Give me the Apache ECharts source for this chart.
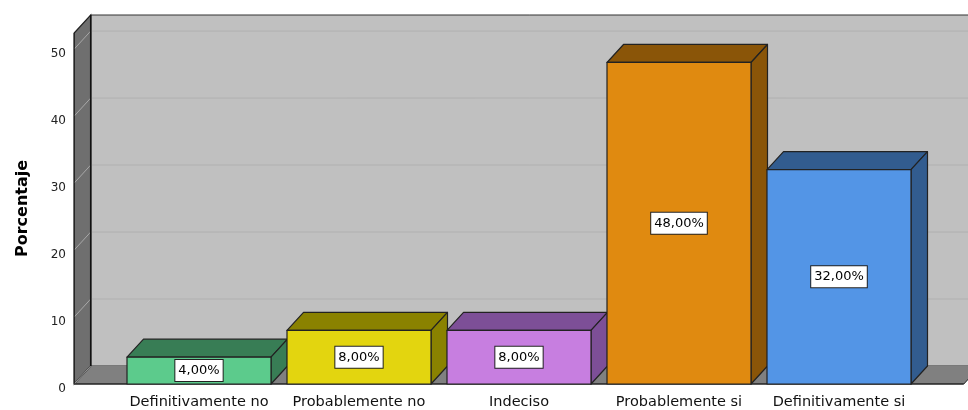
<!DOCTYPE html>
<html><head><meta charset="utf-8">
<script src="https://cdn.jsdelivr.net/npm/echarts@6/dist/echarts.min.js"></script>
<style>html,body{margin:0;padding:0;background:#fff}#c{width:968px;height:410px}</style>
</head><body><div id="c"></div>
<script>
var categories = ['Definitivamente no', 'Probablemente no', 'Indeciso', 'Probablemente si', 'Definitivamente si'];
var values = [4, 8, 8, 48, 32];
var labels = ['4,00%', '8,00%', '8,00%', '48,00%', '32,00%'];
var frontColors = ['#5ccb8c', '#e3d50f', '#c77ee0', '#e08a10', '#5395e6'];
var darkColors = ['#387d55', '#8a8200', '#7d4f97', '#8a5508', '#325c8f'];
var yTicks = [0, 10, 20, 30, 40, 50];

var FONT = '"DejaVu Sans", Verdana, sans-serif';
var DX = 16.5, DY = -18;
var chart = echarts.init(document.getElementById('c'));

function wallsRender(params, api) {
  var cs = params.coordSys;
  var band = api.size([1, 0])[0];
  var ext = band * 0.28;
  var L = cs.x - ext, R = cs.x + cs.width + ext;
  var top = cs.y, base = cs.y + cs.height;
  var ch = [];
  ch.push({type: 'rect', shape: {x: L + DX, y: top + DY, width: R - L + 60, height: cs.height},
    style: {fill: '#c0c0c0', stroke: '#333', lineWidth: 1}});
  for (var i = 1; i < yTicks.length; i++) {
    var y = api.coord([0, yTicks[i]])[1];
    ch.push({type: 'line', shape: {x1: L + DX, y1: y + DY, x2: R + DX + 60, y2: y + DY},
      style: {stroke: '#b0b0b0', lineWidth: 1}});
  }
  ch.push({type: 'polygon', shape: {points: [[L, base], [L + DX, base + DY], [R + DX + 60, base + DY], [R + 60, base]]},
    style: {fill: '#808080', stroke: null}});
  ch.push({type: 'polygon', shape: {points: [[R, base], [R + DX, base + DY], [R + DX + 60, base + DY], [R + 60, base]]},
    style: {fill: '#fff', stroke: null}});
  ch.push({type: 'line', shape: {x1: R, y1: base, x2: R + DX, y2: base + DY}, style: {stroke: '#222', lineWidth: 1}});
  ch.push({type: 'line', shape: {x1: L, y1: base, x2: R, y2: base}, style: {stroke: '#222', lineWidth: 1.5}});
  ch.push({type: 'polygon', shape: {points: [[L, top], [L + DX, top + DY], [L + DX, base + DY], [L, base]]},
    style: {fill: '#6f6f6f', stroke: '#222', lineWidth: 1.2}});
  for (var j = 0; j < yTicks.length; j++) {
    var yy = api.coord([0, yTicks[j]])[1];
    ch.push({type: 'line', shape: {x1: L, y1: yy, x2: L + DX, y2: yy + DY},
      style: {stroke: j === 0 ? '#9a9a9a' : '#a8a8a8', lineWidth: 1}});
  }
  ch.push({type: 'line', shape: {x1: L + DX, y1: top + DY, x2: L + DX, y2: base + DY}, style: {stroke: '#111', lineWidth: 1.5}});
  ch.push({type: 'line', shape: {x1: L, y1: top, x2: L, y2: base}, style: {stroke: '#222', lineWidth: 1.2}});
  return {type: 'group', children: ch};
}

function barRender(params, api) {
  var idx = params.dataIndex;
  var c = api.value(0), v = api.value(1);
  var p = api.coord([c, v]);
  var b = api.coord([c, 0]);
  var w = api.size([1, 0])[0] * 0.9;
  var Lx = p[0] - w / 2, Rx = p[0] + w / 2, top = p[1], base = b[1];
  var st = {stroke: '#222', lineWidth: 1.2, lineJoin: 'round'};
  return {type: 'group', children: [
    {type: 'polygon', shape: {points: [[Lx, top], [Lx + DX, top + DY], [Rx + DX, top + DY], [Rx, top]]},
      style: Object.assign({fill: darkColors[idx]}, st)},
    {type: 'polygon', shape: {points: [[Rx, top], [Rx + DX, top + DY], [Rx + DX, base + DY], [Rx, base]]},
      style: Object.assign({fill: darkColors[idx]}, st)},
    {type: 'rect', shape: {x: Lx, y: top, width: w, height: base - top},
      style: Object.assign({fill: frontColors[idx]}, st)},
    {type: 'text', x: p[0], y: (top + base) / 2,
      style: {text: labels[idx], fill: '#000', font: '13px ' + FONT,
        align: 'center', verticalAlign: 'middle', backgroundColor: '#fff', borderColor: '#222', borderWidth: 1,
        padding: [4, 3, 4, 3]}}
  ]};
}

chart.setOption({
  animation: false,
  grid: {left: 119, right: 49, top: 33, bottom: 26},
  xAxis: {type: 'category', data: categories, axisLine: {show: false}, axisTick: {show: false},
    axisLabel: {color: '#111', fontSize: 14.5, fontFamily: FONT, margin: 11, interval: 0, hideOverlap: false}},
  yAxis: {type: 'value', min: 0, max: 52.4, interval: 10,
    name: 'Porcentaje', nameLocation: 'middle', nameRotate: 90, nameGap: 88,
    nameTextStyle: {fontSize: 16, fontWeight: 'bold', color: '#000', fontFamily: FONT},
    axisLine: {show: false}, axisTick: {show: false}, splitLine: {show: false},
    axisLabel: {color: '#222', fontSize: 12, margin: 53, fontFamily: FONT,
      formatter: function (v) { return yTicks.indexOf(v) >= 0 ? '{t|' + v + '}' : ''; },
      rich: {t: {color: '#222', fontSize: 12, fontFamily: FONT, padding: [10, 0, 0, 0]}}}},
  series: [
    {type: 'custom', renderItem: wallsRender, data: [[0, 0]], silent: true, z: 1},
    {type: 'custom', renderItem: barRender, data: values.map(function (v, i) { return [i, v]; }), z: 2}
  ]
});
</script></body></html>
